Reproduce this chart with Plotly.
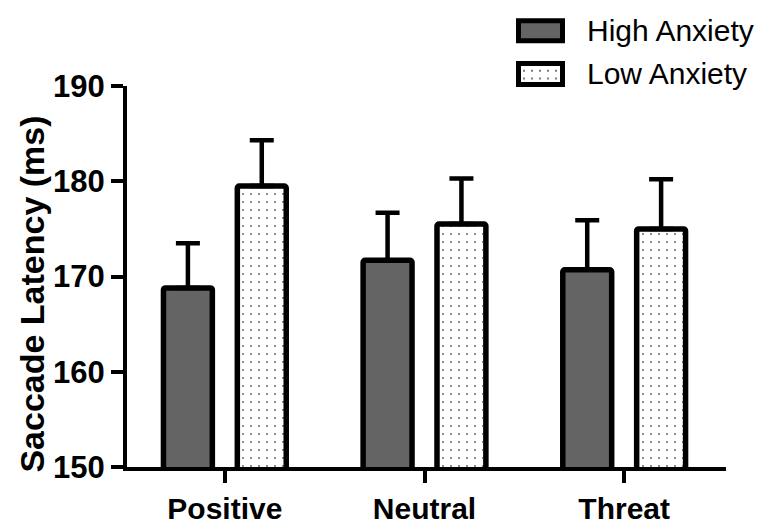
import plotly.graph_objects as go

categories = ["Positive", "Neutral", "Threat"]
high_anxiety = [168.8, 171.7, 170.7]
high_err = [4.7, 5.0, 5.2]
low_anxiety = [179.5, 175.5, 175.0]
low_err = [4.8, 4.8, 5.2]
y_ticks = [150, 160, 170, 180, 190]
series_names = ["High Anxiety", "Low Anxiety"]
y_title = "Saccade Latency (ms)"

W, H = 767, 529
L, R, T, B = 119, 49, 78, 51
PW, PH = W - L - R, H - T - B


def px(x):
    return (x - L) / PW


def py(y):
    return 1 - (y - T) / PH


FONT = "Liberation Sans, Arial, Helvetica, sans-serif"
DARK = "#646464"
BORDER = 5.5

fig = go.Figure()
fig.add_bar(
    x=categories, y=high_anxiety, name=series_names[0],
    marker=dict(color=DARK, line=dict(color="black", width=BORDER), cornerradius=2),
    error_y=dict(type="data", array=high_err, arrayminus=[0] * len(high_err),
                 symmetric=False, color="black", thickness=4.5, width=12),
)
fig.add_bar(
    x=categories, y=low_anxiety, name=series_names[1],
    marker=dict(color="white", line=dict(color="black", width=BORDER), cornerradius=2,
                pattern=dict(shape=".", fgcolor="#7a7a7a", bgcolor="white", size=8,
                             solidity=0.06, fillmode="replace")),
    error_y=dict(type="data", array=low_err, arrayminus=[0] * len(low_err),
                 symmetric=False, color="black", thickness=4.5, width=12),
)

axis_common = dict(
    showline=True, linecolor="black", linewidth=4,
    ticks="outside", ticklen=12, tickwidth=4, tickcolor="black",
    showgrid=False, zeroline=False,
)

fig.update_layout(
    width=W, height=H,
    margin=dict(l=L, r=R, t=T, b=B),
    paper_bgcolor="white", plot_bgcolor="white",
    barmode="group", bargap=0.26, bargroupgap=0.338,
    showlegend=False,
    xaxis=dict(range=[-0.49, 2.51],
               tickfont=dict(family=FONT, size=30, color="black", weight="bold"),
               **axis_common),
    yaxis=dict(range=[150, 190], tickvals=y_ticks,
               tickfont=dict(family=FONT, size=31, color="black", weight="bold"),
               **axis_common),
)

# custom legend
shapes = []
annotations = []
rows = [(9.5, 30.5, DARK, 20), (54.5, 76.5, "white", 65)]
for (y0, y1, fill, ty), name in zip(rows, series_names):
    shapes.append(dict(type="rect", xref="paper", yref="paper",
                       x0=px(510.5), x1=px(554.5), y0=py(y1), y1=py(y0),
                       fillcolor=fill, line=dict(color="black", width=5)))
    annotations.append(dict(text=name, xref="paper", yref="paper", x=px(577), y=py(ty),
                            xanchor="left", yanchor="middle", showarrow=False,
                            font=dict(family=FONT, size=30, color="black")))
for yy in (62, 70):
    shapes.append(dict(type="line", xref="paper", yref="paper",
                       x0=px(515), x1=px(552), y0=py(yy), y1=py(yy),
                       line=dict(color="#7a7a7a", width=2, dash="2px,6px")))

annotations.append(dict(text=y_title, xref="paper", yref="paper", x=px(24), y=py(297),
                        xanchor="center", yanchor="middle", textangle=-90, showarrow=False,
                        font=dict(family=FONT, size=34, color="black", weight="bold")))

fig.update_layout(shapes=shapes, annotations=annotations)
fig.write_html("out.html")
